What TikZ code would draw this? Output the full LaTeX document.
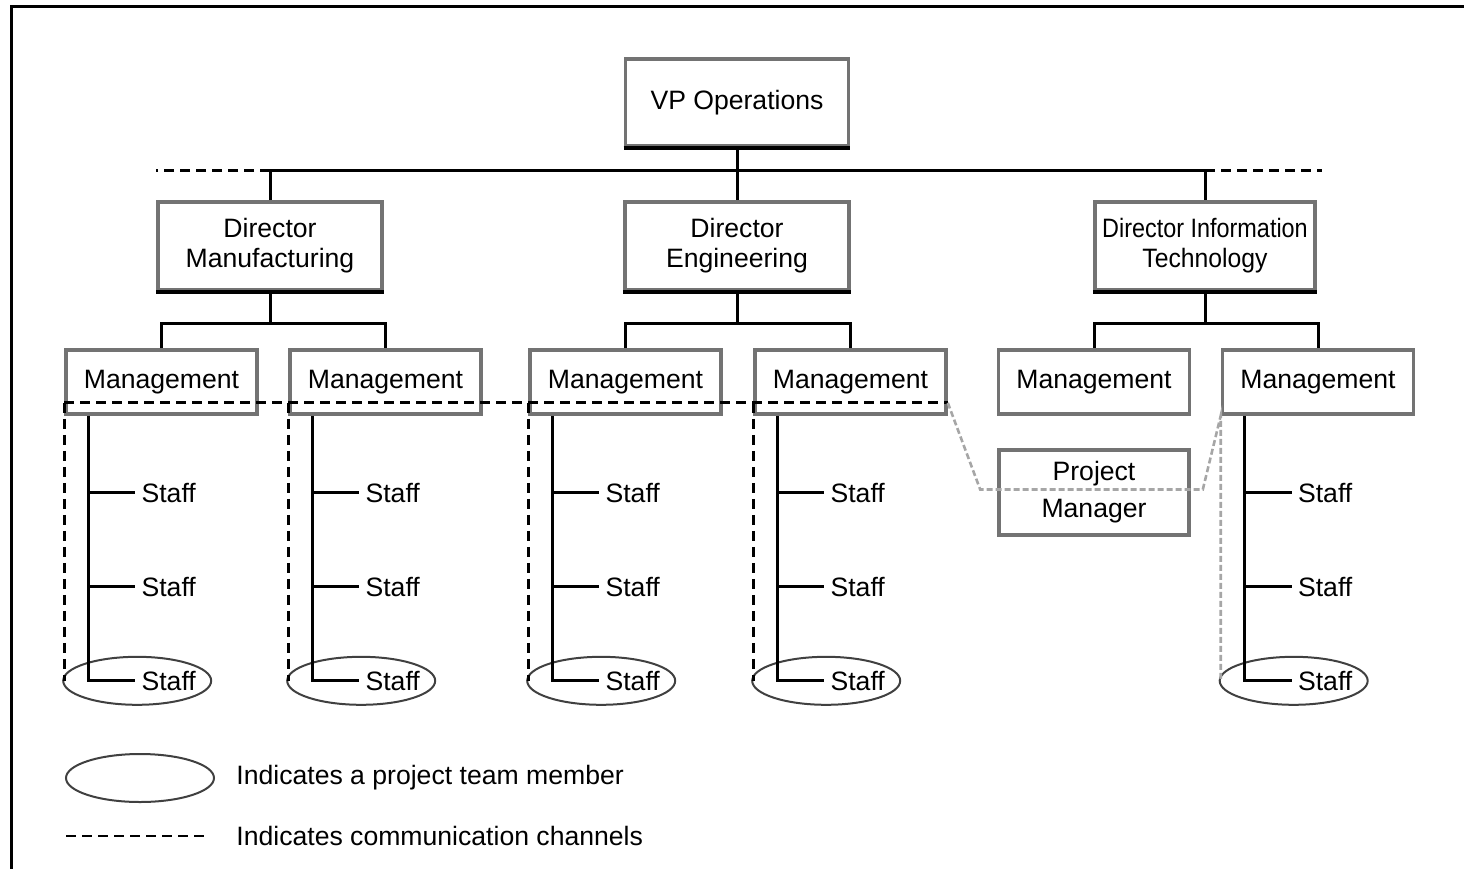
\documentclass[tikz,border=0pt]{standalone}
\usepackage{fontspec}
\usepackage{graphicx}
\setmainfont{Liberation Sans}
\usetikzlibrary{calc,shapes.geometric}

\tikzset{
  box/.style={draw=black!55, line width=1.8pt, fill=white, align=center, inner sep=0pt},
  mgmt/.style={box, minimum width=95.5pt, minimum height=32pt},
  link/.style={line width=1.5pt},
  comm/.style={line width=1.4pt, dash pattern=on 5pt off 3pt},
  pmcomm/.style={line width=1.3pt, draw=black!35, dash pattern=on 3pt off 1.5pt},
  member/.style={ellipse, draw=black!75, line width=1pt, minimum width=74pt, minimum height=24pt, inner sep=0pt},
  staff/.style={anchor=west, inner sep=0pt},
}

\begin{document}
\begin{tikzpicture}[x=0.5pt, y=-0.5pt, font=\fontsize{13.3}{15}\selectfont]
	%%%%% START %%%%%
	\useasboundingbox (0,0) rectangle (1464,869);
	\draw[line width=1.5pt] (1464,6.5) -- (11.5,6.5) -- (11.5,869);
	
	\node[box, minimum width=111.5pt, minimum height=43.5pt] (vp) at (737,102.5) {VP Operations};
	
	\node[box, minimum width=112pt, minimum height=44pt] (dm) at (270,246) {Director\\Manufacturing};
	\node[box, minimum width=112pt, minimum height=44pt] (de) at (737,246) {Director\\Engineering};
	\node[box, minimum width=110pt, minimum height=44pt] (dit) at (1205,246) {\scalebox{0.88}[1]{Director Information}\\\scalebox{0.93}[1]{Technology}};
	
	% darker lower edges of the upper boxes
	\foreach \n in {vp, dm, de, dit}
		\draw[line width=1.8pt] (\n.south west) -- (\n.south east);
	
	\foreach \n/\x in {m1/161.5, m2/385.5, m3/625.5, m4/850.5, m5/1094, m6/1318}
		\node[mgmt] (\n) at (\x,382) {Management};
	
	\node[box, minimum width=95pt, minimum height=42.5pt, font=\fontsize{13.3}{18.5}\selectfont] (pm) at (1094,492.5) {Project\\Manager};
	
	\draw[link] (vp.south) -- (de.north);
	\draw[link] (dm.north) -- ++(0,-30) -| (dit.north);
	\draw[comm] ($(dm.north)+(0,-30)$) -- ($(dm.north west)+(0,-30)$);
	\draw[comm] ($(dit.north)+(0,-30)$) -- ($(dit.north east)+(5,-30)$);
	
	\foreach \d/\a/\b in {dm/m1/m2, de/m3/m4, dit/m5/m6} {
		\draw[link] (\d.south) -- ++(0,32);
		\draw[link] (\a.north) |- ($(\d.south)+(0,32)$) -| (\b.north);
	}
	
	% staff under each management box
	\foreach \m/\e in {m1/e1, m2/e2, m3/e3, m4/e4, m6/e6} {
		\coordinate (\m t) at ($(\m.south west)+(24,0)$);
		\node[member] (\e) at ($(\m.south west)+(73,265)$) {};
		\node[staff] (\m a) at ($(\m.south west)+(77,77)$) {Staff};
		\node[staff] (\m b) at ($(\m.south west)+(77,171)$) {Staff};
		\node[staff] (\m c) at ($(\m.south west)+(77,265)$) {Staff};
		\draw[link] (\m t) |- ($(\m c.west)+(-6,0)$);
		\draw[link] (\m t |- \m a.west) -- ($(\m a.west)+(-6,0)$);
		\draw[link] (\m t |- \m b.west) -- ($(\m b.west)+(-6,0)$);
	}
	
	% communication channels
	\draw[comm] ($(m1.south west)+(0,-13)$) -- ($(m4.south east)+(0,-13)$);
	\foreach \m/\e in {m1/e1, m2/e2, m3/e3, m4/e4}
		\draw[comm] ($(\m.south west)+(0,-13)$) -- (\m.south west |- \e.west);
	\draw[pmcomm] ($(m4.south east)+(0,-13)$) -- ($(pm.west)+(-17,-3)$) -- ($(pm.east)+(12,-3)$) -- (m6.south west) -- (m6.south west |- e6.west);
	
	% legend
	\node[member] (key) at (140,778) {};
	\node[anchor=west, inner sep=0pt] (keytext) at (236,778) {Indicates a project team member};
	\coordinate (dasha) at (66,836);
	\coordinate (dashb) at (208,836);
	\draw[comm] (dasha) -- (dashb);
	\node[anchor=west, inner sep=0pt] (dashtext) at (236,836) {Indicates communication channels};
	
	%%%%% END %%%%%
\end{tikzpicture}
\end{document}
